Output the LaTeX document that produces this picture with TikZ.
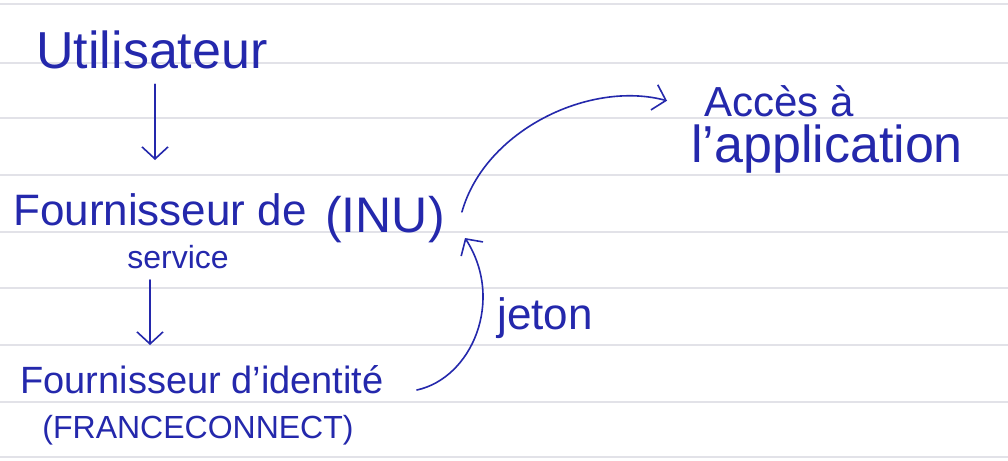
\documentclass[tikz,border=0pt]{standalone}
\usepackage{fontspec}
\setmainfont{Liberation Sans}
\usetikzlibrary{arrows.meta}
\definecolor{ink}{RGB}{36,40,172}
\definecolor{rule}{RGB}{226,226,232}
\newcommand{\fs}[1]{\fontsize{#1}{#1}\selectfont}
\tikzset{
  hand/.style={text=ink, inner sep=1pt},
  flow/.style={draw=ink, line width=1.6pt, line cap=round, -{Straight Barb[length=12pt,width=26pt,line width=1.6pt]}},
  ruled/.style={draw=rule, line width=1.2pt}
}
\begin{document}
\begin{tikzpicture}[x=1pt,y=-1pt]
\useasboundingbox (0,0) rectangle (1008,460);
\fill[white] (0,0) rectangle (1008,460);
\foreach \yy in {4,63,118,175,232,288,345,402,457}
  \draw[ruled] (0,\yy) -- (1008,\yy);
\node[hand, font=\fs{52}] (user) at (152,50) {Utilisateur};
\node[hand, font=\fs{44}] (sp) at (160,210) {Fournisseur de};
\node[hand, font=\fs{32}] (spb) at (178,257) {service};
\node[hand, font=\fs{50}] (inu) at (385,220) {(INU)};
\node[hand, font=\fs{38}] (idp) at (202,380) {Fournisseur d'identité};
\node[hand, font=\fs{32}] (idpb) at (198,430) {(FRANCECONNECT)};
\node[hand, font=\fs{42}, anchor=base west] (acc) at (703,116) {Accès à};
\node[hand, font=\fs{52}, anchor=base west] (acc2) at (690,162) {l'application};
\node[hand, font=\fs{44}] (jeton) at (545,318) {jeton};
\coordinate (u2) at (155,160);
\coordinate (s2) at (150,345);
\draw[flow] (user.south) ++(3,14) coordinate (ua) (ua) -- (u2);
\draw[flow] (spb.south) ++(-28,10) coordinate (sa) (sa) -- (s2);
\draw[flow] (idp.east) ++(32,10) coordinate (ja)
  (ja) .. controls (472,378) and (505,300) .. (465,238);
\draw[flow] (inu.east) ++(16,-8) coordinate (aa)
  (aa) .. controls (485,130) and (590,80) .. ([xshift=-36pt]acc.west);
\end{tikzpicture}
\end{document}
